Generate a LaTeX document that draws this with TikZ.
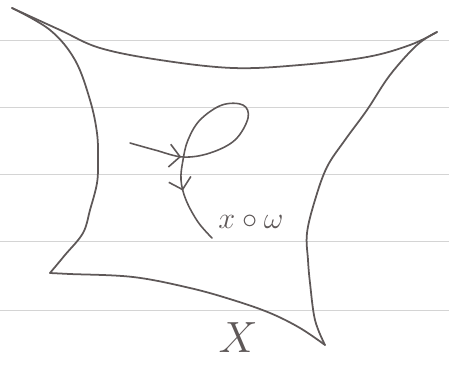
\documentclass[tikz,border=0pt]{standalone}
\usepackage{amsmath,amssymb}
\usepackage{tikz}
\usepackage{xcolor}
\usetikzlibrary{arrows.meta,decorations.markings}
\definecolor{pencil}{HTML}{5E5858}
\definecolor{ruling}{HTML}{D4D4D4}

\begin{document}
\begin{tikzpicture}[x=0.02cm,y=-0.02cm,line cap=round,
    edge/.style={draw=pencil,line width=1pt},
    loopline/.style={draw=pencil,line width=0.9pt,postaction={decorate},
      decoration={markings,
        mark=at position 0.16 with {\arrow{Straight Barb[length=6pt,width=13pt,line width=0.9pt]}},
        mark=at position 0.83 with {\arrow{Straight Barb[length=6pt,width=13pt,line width=0.9pt]}}}},
    label/.style={text=pencil,inner sep=0pt}]
  \useasboundingbox (0,0) rectangle (449,365);
  % ruled paper
  \foreach \y in {40,107,174,241,310}{
    \draw[draw=ruling,line width=0.5pt] (0,\y) -- (449,\y);
  }
  % the space
  \draw[edge] plot[smooth,tension=0.6] coordinates
    {(12,8) (60,30) (100,48) (160,60) (233,68) (300,65) (367,57) (410,45) (437,32)};
  \draw[edge] plot[smooth,tension=0.6] coordinates
    {(437,32) (417,45) (390,75) (367,110) (345,140) (327,167) (315,200) (307,233) (308,260) (310,283) (315,320) (325,345)};
  \draw[edge] plot[smooth,tension=0.6] coordinates
    {(50,273) (70,274) (133,277) (190,288) (233,300) (270,313) (300,328) (325,345)};
  \draw[edge] plot[smooth,tension=0.6] coordinates
    {(12,8) (50,30) (75,60) (90,100) (97,133) (98,160) (97,183) (90,210) (83,233) (65,255) (50,273)};
  % the loop
  \draw[loopline] plot[smooth,tension=0.6] coordinates
    {(130,143) (155,150) (183,157) (210,153) (235,140) (248,118) (243,105) (222,105) (200,120) (188,140) (183,160) (181,180) (186,200) (198,222) (212,238)};
  % labels
  \node[label,font=\LARGE] (path) at (251,222) {$x\circ\omega$};
  \node[label,font=\Huge] (space) at (238,338) {$X$};
\end{tikzpicture}
\end{document}
